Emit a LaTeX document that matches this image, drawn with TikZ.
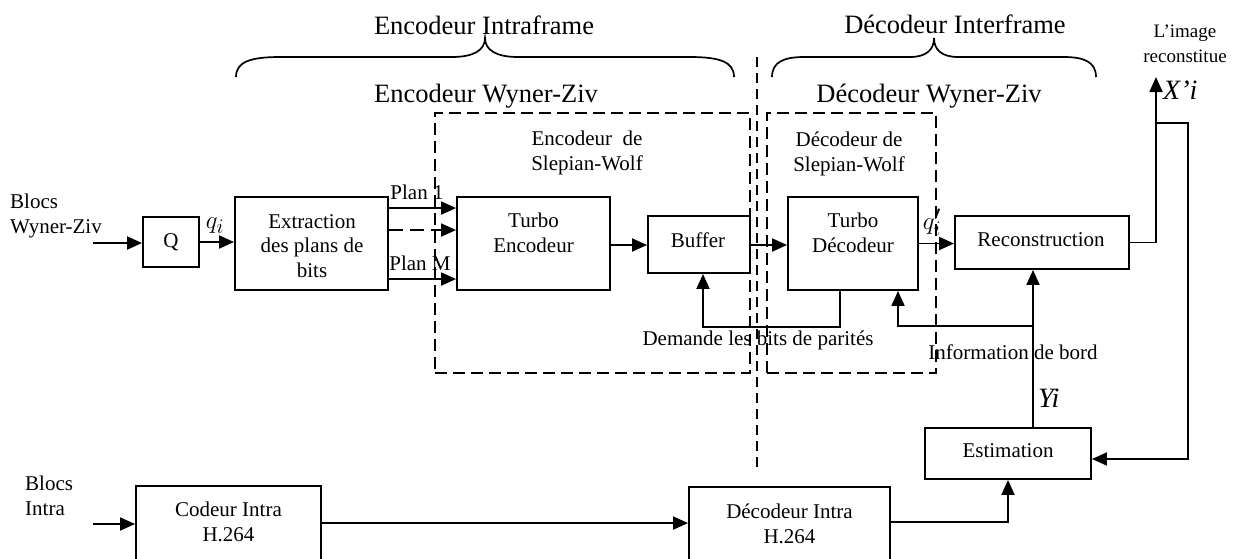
\documentclass[tikz,border=0pt]{standalone}
\usepackage{fontspec}
\setmainfont{Liberation Serif}
\usetikzlibrary{arrows.meta,calc}
\newcommand\txtM{\fontsize{21}{24.5}\selectfont}
\newcommand\txtL{\fontsize{26.5}{30}\selectfont}
\newcommand\txtS{\fontsize{19}{24.5}\selectfont}
\newcommand\txtV{\fontsize{28}{30}\selectfont}
\begin{document}
\begin{tikzpicture}[x=1pt,y=-1pt,
  blk/.style={draw,line width=1.9pt,inner sep=0pt,font=\txtM,align=center},
  lbl/.style={inner sep=0pt,font=\txtM,align=center},
  ln/.style={line width=1.9pt},
  arr/.style={line width=1.9pt,-{Triangle[length=15pt,width=13pt]}},
  dbox/.style={draw,line width=1.9pt,dash pattern=on 12pt off 6pt},
  vdash/.style={line width=1.5pt,dash pattern=on 10pt off 6pt},
  brace/.style={line width=1.7pt}]
\useasboundingbox (0,0) rectangle (1242,558);
\clip (0,0) rectangle (1242,558);

% group headings and braces
\node[lbl,font=\txtL] (eif) at (484,25) {Encodeur Intraframe};
\node[lbl,font=\txtL] (dif) at (955,24) {Décodeur Interframe};
\draw[brace] (236,77) .. controls (236,62) and (250,57) .. (280,57) -- (452,57)
  .. controls (474,57) and (485,50) .. (485,38)
  .. controls (485,50) and (496,57) .. (518,57) -- (690,57)
  .. controls (720,57) and (734,62) .. (734,77);
\draw[brace] (772,77) .. controls (772,62) and (784,57) .. (804,57) -- (910,57)
  .. controls (926,57) and (934,50) .. (934,38)
  .. controls (934,50) and (942,57) .. (958,57) -- (1064,57)
  .. controls (1084,57) and (1096,62) .. (1096,77);
\node[lbl,font=\txtL] (ewz) at (486,96) {Encodeur Wyner-Ziv};
\node[lbl,font=\txtL] (dwz) at (929,96) {Décodeur Wyner-Ziv};

% encoder / decoder separation
\coordinate (sepT) at (757,57);
\coordinate (sepB) at (757,468);
\draw[vdash] (sepT) -- (sepB);

% Slepian-Wolf groups
\node[dbox,minimum width=315pt,minimum height=260pt] (swe) at (592.5,243) {};
\node[dbox,minimum width=169pt,minimum height=260pt] (swd) at (851.5,243) {};
\node[lbl] (swet) at (587,153) {Encodeur~ de\\Slepian-Wolf};
\node[lbl] (swdt) at (849,154) {Décodeur de\\Slepian-Wolf};

% processing blocks
\node[blk,minimum width=56pt,minimum height=50pt] (q) at (171,242) {Q};
\node[blk,minimum width=153pt,minimum height=93pt] (ext) at (311.5,243.5) {};
\node[lbl] (extt) at (312,246) {Extraction\\des plans de\\bits};
\node[blk,minimum width=153pt,minimum height=93pt] (te) at (533.5,243.5) {};
\node[lbl] (tet) at (533.5,233) {Turbo\\Encodeur};
\node[blk,minimum width=102pt,minimum height=57pt] (buf) at (699,244.5) {};
\node[lbl] (buft) at (698,240) {Buffer};
\node[blk,minimum width=130pt,minimum height=93pt] (td) at (853,243.5) {};
\node[lbl] (tdt) at (853,233) {Turbo\\Décodeur};
\node[blk,minimum width=174pt,minimum height=53pt] (rec) at (1042,242.5) {};
\node[lbl] (rect) at (1041,240) {Reconstruction};
\node[blk,minimum width=166pt,minimum height=51pt] (est) at (1008,453.5) {};
\node[lbl] (estt) at (1008,451) {Estimation};
\node[blk,minimum width=185pt,minimum height=100pt] (ci) at (228.5,536) {};
\node[lbl] (cit) at (228.5,522) {Codeur Intra\\H.264};
\node[blk,minimum width=201pt,minimum height=100pt] (di) at (789.5,537) {};
\node[lbl] (dit) at (789.5,524) {Décodeur Intra\\H.264};

% inputs and outputs
\node[lbl,align=left,anchor=west] (bwz) at (10,216) {Blocs\\Wyner-Ziv};
\node[lbl,align=left,anchor=west] (bin) at (25,496) {Blocs\\Intra};
\node[lbl,font=\txtS] (img) at (1185,44) {L’image\\reconstitue};
\node[inner sep=0pt,anchor=west,font=\txtV\itshape] (xi) at (1163,90) {X’i};
\node[inner sep=0pt,anchor=west,font=\txtV\itshape] (yi) at (1038,398) {Yi};
\node[inner sep=0pt,font=\txtV] (qi) at (215,226) {$q_i$};
\node[inner sep=0pt,font=\txtV] (qpi) at (932,222) {$q'_i$};
\node[lbl] (p1) at (417,192) {Plan 1};
\node[lbl] (pm) at (420,263) {Plan M};
\node[lbl] (dem) at (758,340) {Demande les bits de parités};
\node[lbl] (info) at (1013,352) {Information de bord};

% forward path
\coordinate (bwa) at (93,243);
\draw[arr] (bwa) -- (bwa -| q.west);
\draw[arr] (q.east) -- (q.east -| ext.west);
\draw[arr] ($(ext.north east)+(0,12)$) -- ($(te.north west)+(0,12)$);
\draw[arr,dash pattern=on 14pt off 7pt] ($(ext.north east)+(0,34)$) -- ($(te.north west)+(0,34)$);
\draw[arr] ($(ext.north east)+(0,83)$) -- ($(te.north west)+(0,83)$);
\draw[arr] ($(te.east)+(0,1.5)$) -- ($(te.east -| buf.west)+(0,1.5)$);
\draw[arr] ($(buf.east)+(0,0.5)$) -- ($(buf.east -| td.west)+(0,0.5)$);
\draw[arr] (td.east) -- (td.east -| rec.west);

% reconstructed output and feedback to estimation
\coordinate (xout) at (1156,77);
\coordinate (xbr) at (1156,123);
\coordinate (xfb) at (1188,123);
\draw[arr] (rec.east) -| (xout);
\draw[arr] (xbr) -- (xfb) |- ($(est.east)+(0,5.5)$);

% side information
\coordinate (si) at ($(est.north)+(25,0)$);
\coordinate (sj) at (1033,326);
\draw[arr] (si) -- (si |- rec.south);
\draw[arr] (sj) -| ($(td.south)+(45,0)$);

% parity bit request
\coordinate (tdo) at ($(td.south)+(-13,0)$);
\draw[arr] (tdo) -- ++(0,36) -| ($(buf.south)+(4,0)$);

% intra path
\coordinate (bia) at (93,524);
\draw[arr] (bia) -- (bia -| ci.west);
\draw[arr] ($(ci.north east)+(0,38)$) -- ($(di.north west)+(0,37)$);
\coordinate (dio) at ($(di.north east)+(0,36)$);
\draw[arr] (dio) -| (est.south);
\end{tikzpicture}
\end{document}
